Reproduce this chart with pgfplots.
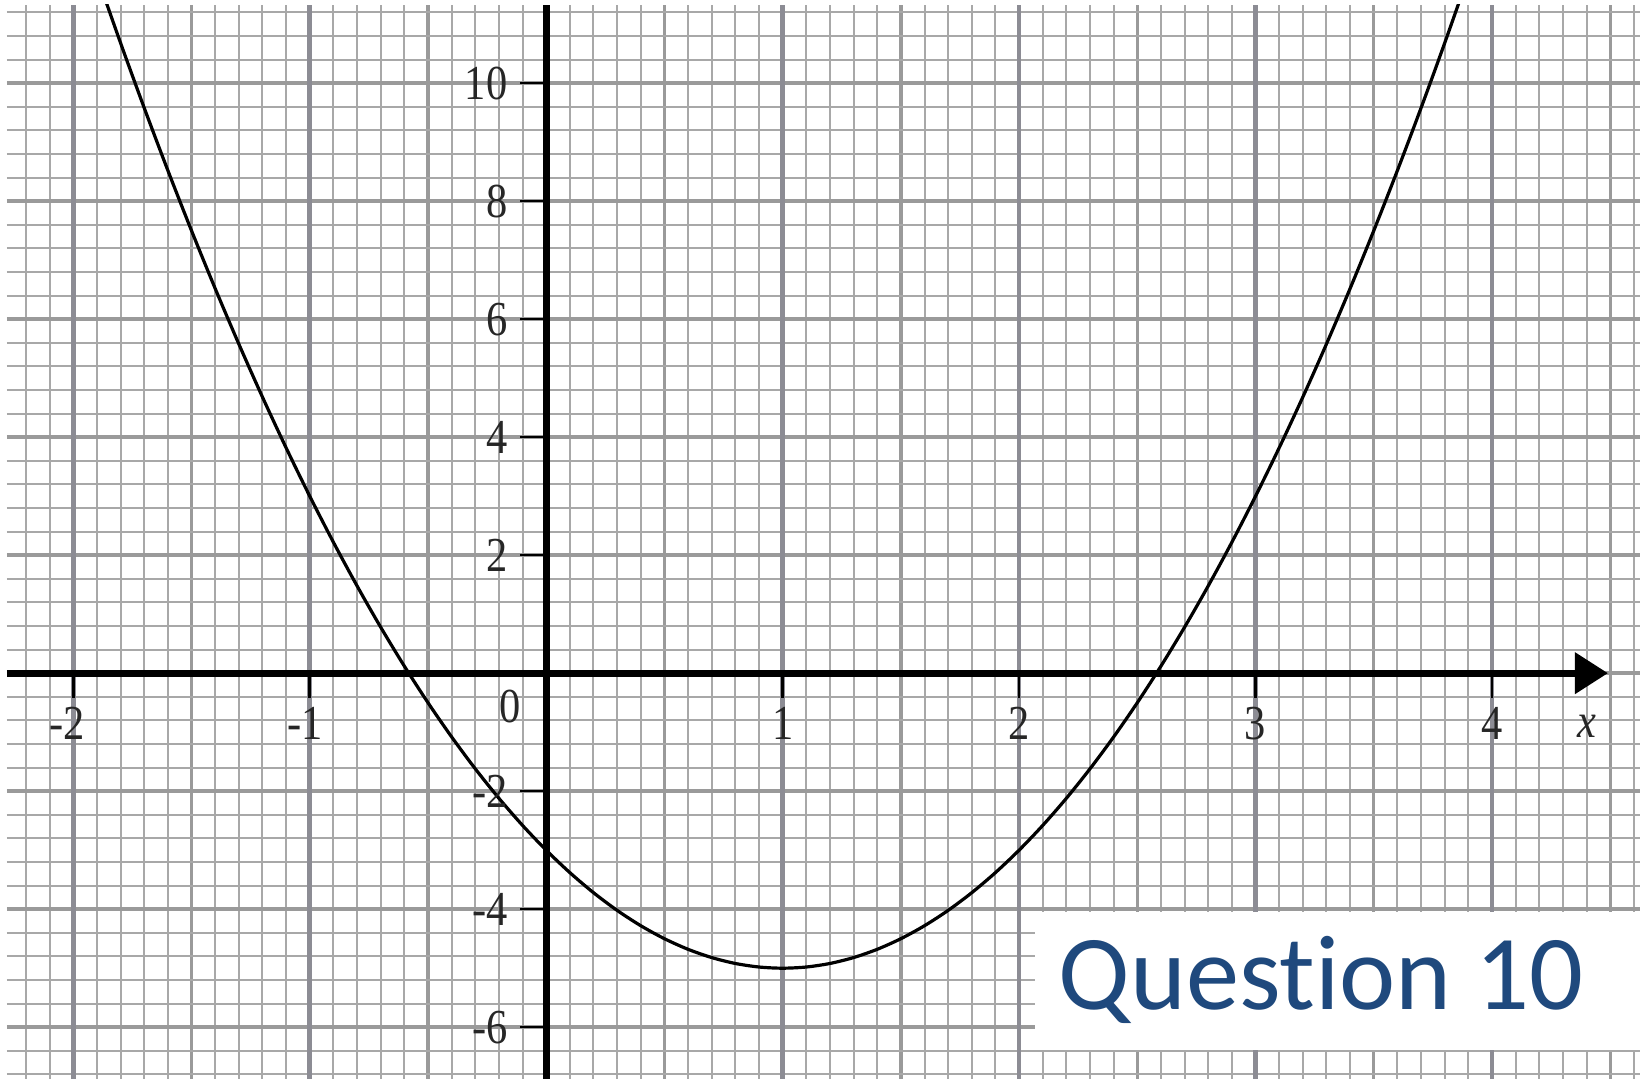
\documentclass[border=0pt]{standalone}
\usepackage{graphicx}
\usepackage{pgfplots}
\pgfplotsset{compat=1.18}
\usepackage{fontspec}
\setmainfont{Liberation Serif}
\newfontfamily\boxfont[Ligatures={NoCommon}]{Carlito}
\usetikzlibrary{arrows.meta}

\definecolor{gridminor}{HTML}{A8A8A8}
\definecolor{gridmid}{HTML}{9A9A9A}
\definecolor{gridmajor}{HTML}{8C8C94}
\definecolor{labelgray}{HTML}{262626}
\definecolor{qblue}{HTML}{1F497D}

% narrow serif numerals used on both axes
\newcommand{\tl}[1]{\scalebox{0.87}[1]{\textcolor{labelgray}{#1}}}

\begin{document}
\begin{tikzpicture}
\fill[white] (0pt,0pt) rectangle (411.75pt,269.75pt);
\begin{axis}[
  at={(1.75pt,0pt)}, anchor=south west,
  scale only axis, width=408.25pt, height=268.5pt,
  xmin=-2.2804, xmax=4.626, ymin=-6.878, ymax=11.325,
  axis line style={draw=none}, tick style={draw=none},
  xtick={-2,-1.5,...,4.5}, ytick={-6,-4,...,10},
  xticklabels={}, yticklabels={},
  minor xtick={-2.2,-2.1,...,4.6},
  minor ytick={-6.8,-6.4,...,11.2},
  grid=both,
  minor grid style={gridminor, line width=0.5pt},
  major grid style={gridmid, line width=0.85pt},
  extra x ticks={-2,-1,...,4}, extra x tick labels={},
  extra x tick style={grid=major, major grid style={gridmajor, line width=1.2pt}},
  clip=true,
]
% the parabola
\addplot[black, line width=0.8pt, smooth] coordinates {
  (-1.9,11.82) (-1.8,10.68) (-1.7,9.58) (-1.6,8.52) (-1.5,7.5)
  (-1.4,6.52) (-1.3,5.58) (-1.2,4.68) (-1.1,3.82) (-1.0,3.0)
  (-0.9,2.22) (-0.8,1.48) (-0.7,0.78) (-0.6,0.12) (-0.5,-0.5)
  (-0.4,-1.08) (-0.3,-1.62) (-0.2,-2.12) (-0.1,-2.58) (0.0,-3.0)
  (0.1,-3.38) (0.2,-3.72) (0.3,-4.02) (0.4,-4.28) (0.5,-4.5)
  (0.6,-4.68) (0.7,-4.82) (0.8,-4.92) (0.9,-4.98) (1.0,-5.0)
  (1.1,-4.98) (1.2,-4.92) (1.3,-4.82) (1.4,-4.68) (1.5,-4.5)
  (1.6,-4.28) (1.7,-4.02) (1.8,-3.72) (1.9,-3.38) (2.0,-3.0)
  (2.1,-2.58) (2.2,-2.12) (2.3,-1.62) (2.4,-1.08) (2.5,-0.5)
  (2.6,0.12) (2.7,0.78) (2.8,1.48) (2.9,2.22) (3.0,3.0)
  (3.1,3.82) (3.2,4.68) (3.3,5.58) (3.4,6.52) (3.5,7.5)
  (3.6,8.52) (3.7,9.58) (3.8,10.68) (3.9,11.82)
};
% coordinate axes
\draw[line width=1.75pt, -{Triangle[length=8.25pt,width=10pt]}]
  (axis cs:-2.2804,0) -- (axis cs:4.4906,0);
\draw[line width=1.75pt] (axis cs:0,-6.878) -- (axis cs:0,11.325);
% y ticks and labels
\pgfplotsinvokeforeach{-6,-4,-2,2,4,6,8,10}{
  \draw[line width=0.65pt] (axis cs:0,#1) -- ++(-6.5pt,0pt);
  \node[anchor=east, inner sep=0pt, xshift=-9.5pt,
        font=\fontsize{12.2pt}{14pt}\selectfont] at (axis cs:0,#1) {\tl{#1}};
}
% x ticks and labels
\pgfplotsinvokeforeach{-2,-1,1,2,3,4}{
  \draw[line width=0.65pt] (axis cs:#1,0) -- ++(0pt,-6.25pt);
}
\begin{scope}[every node/.style={anchor=base, inner sep=0pt, yshift=-16.5pt,
      font=\fontsize{12.2pt}{14pt}\selectfont}]
  \node at (axis cs:-1.995,0) {\tl{\llap{-}2}};
  \node at (axis cs:-0.99,0) {\tl{\llap{-}1}};
  \node at (axis cs:1,0) {\tl{1}};
  \node at (axis cs:2,0) {\tl{2}};
  \node at (axis cs:3,0) {\tl{3}};
  \node at (axis cs:4,0) {\tl{4}};
  \node at (axis cs:4.402,0) [yshift=0.5pt] {\tl{\textit{x}}};
\end{scope}
\node[anchor=base, inner sep=0pt, xshift=-9pt, yshift=-12.25pt,
      font=\fontsize{12.2pt}{14pt}\selectfont] at (axis cs:0,0) {\tl{0}};
\end{axis}
% caption panel
\fill[white] (258.75pt,7.25pt) rectangle (411.75pt,41.75pt);
\node[anchor=base west, inner sep=0pt, text=qblue,
      font=\boxfont\fontsize{26.6pt}{32pt}\selectfont] at (264.5pt,17.25pt) {Quest\kern0pt ion 10};
\pgfresetboundingbox
\path[use as bounding box] (0pt,0pt) rectangle (411.75pt,269.75pt);
\end{tikzpicture}
\end{document}
